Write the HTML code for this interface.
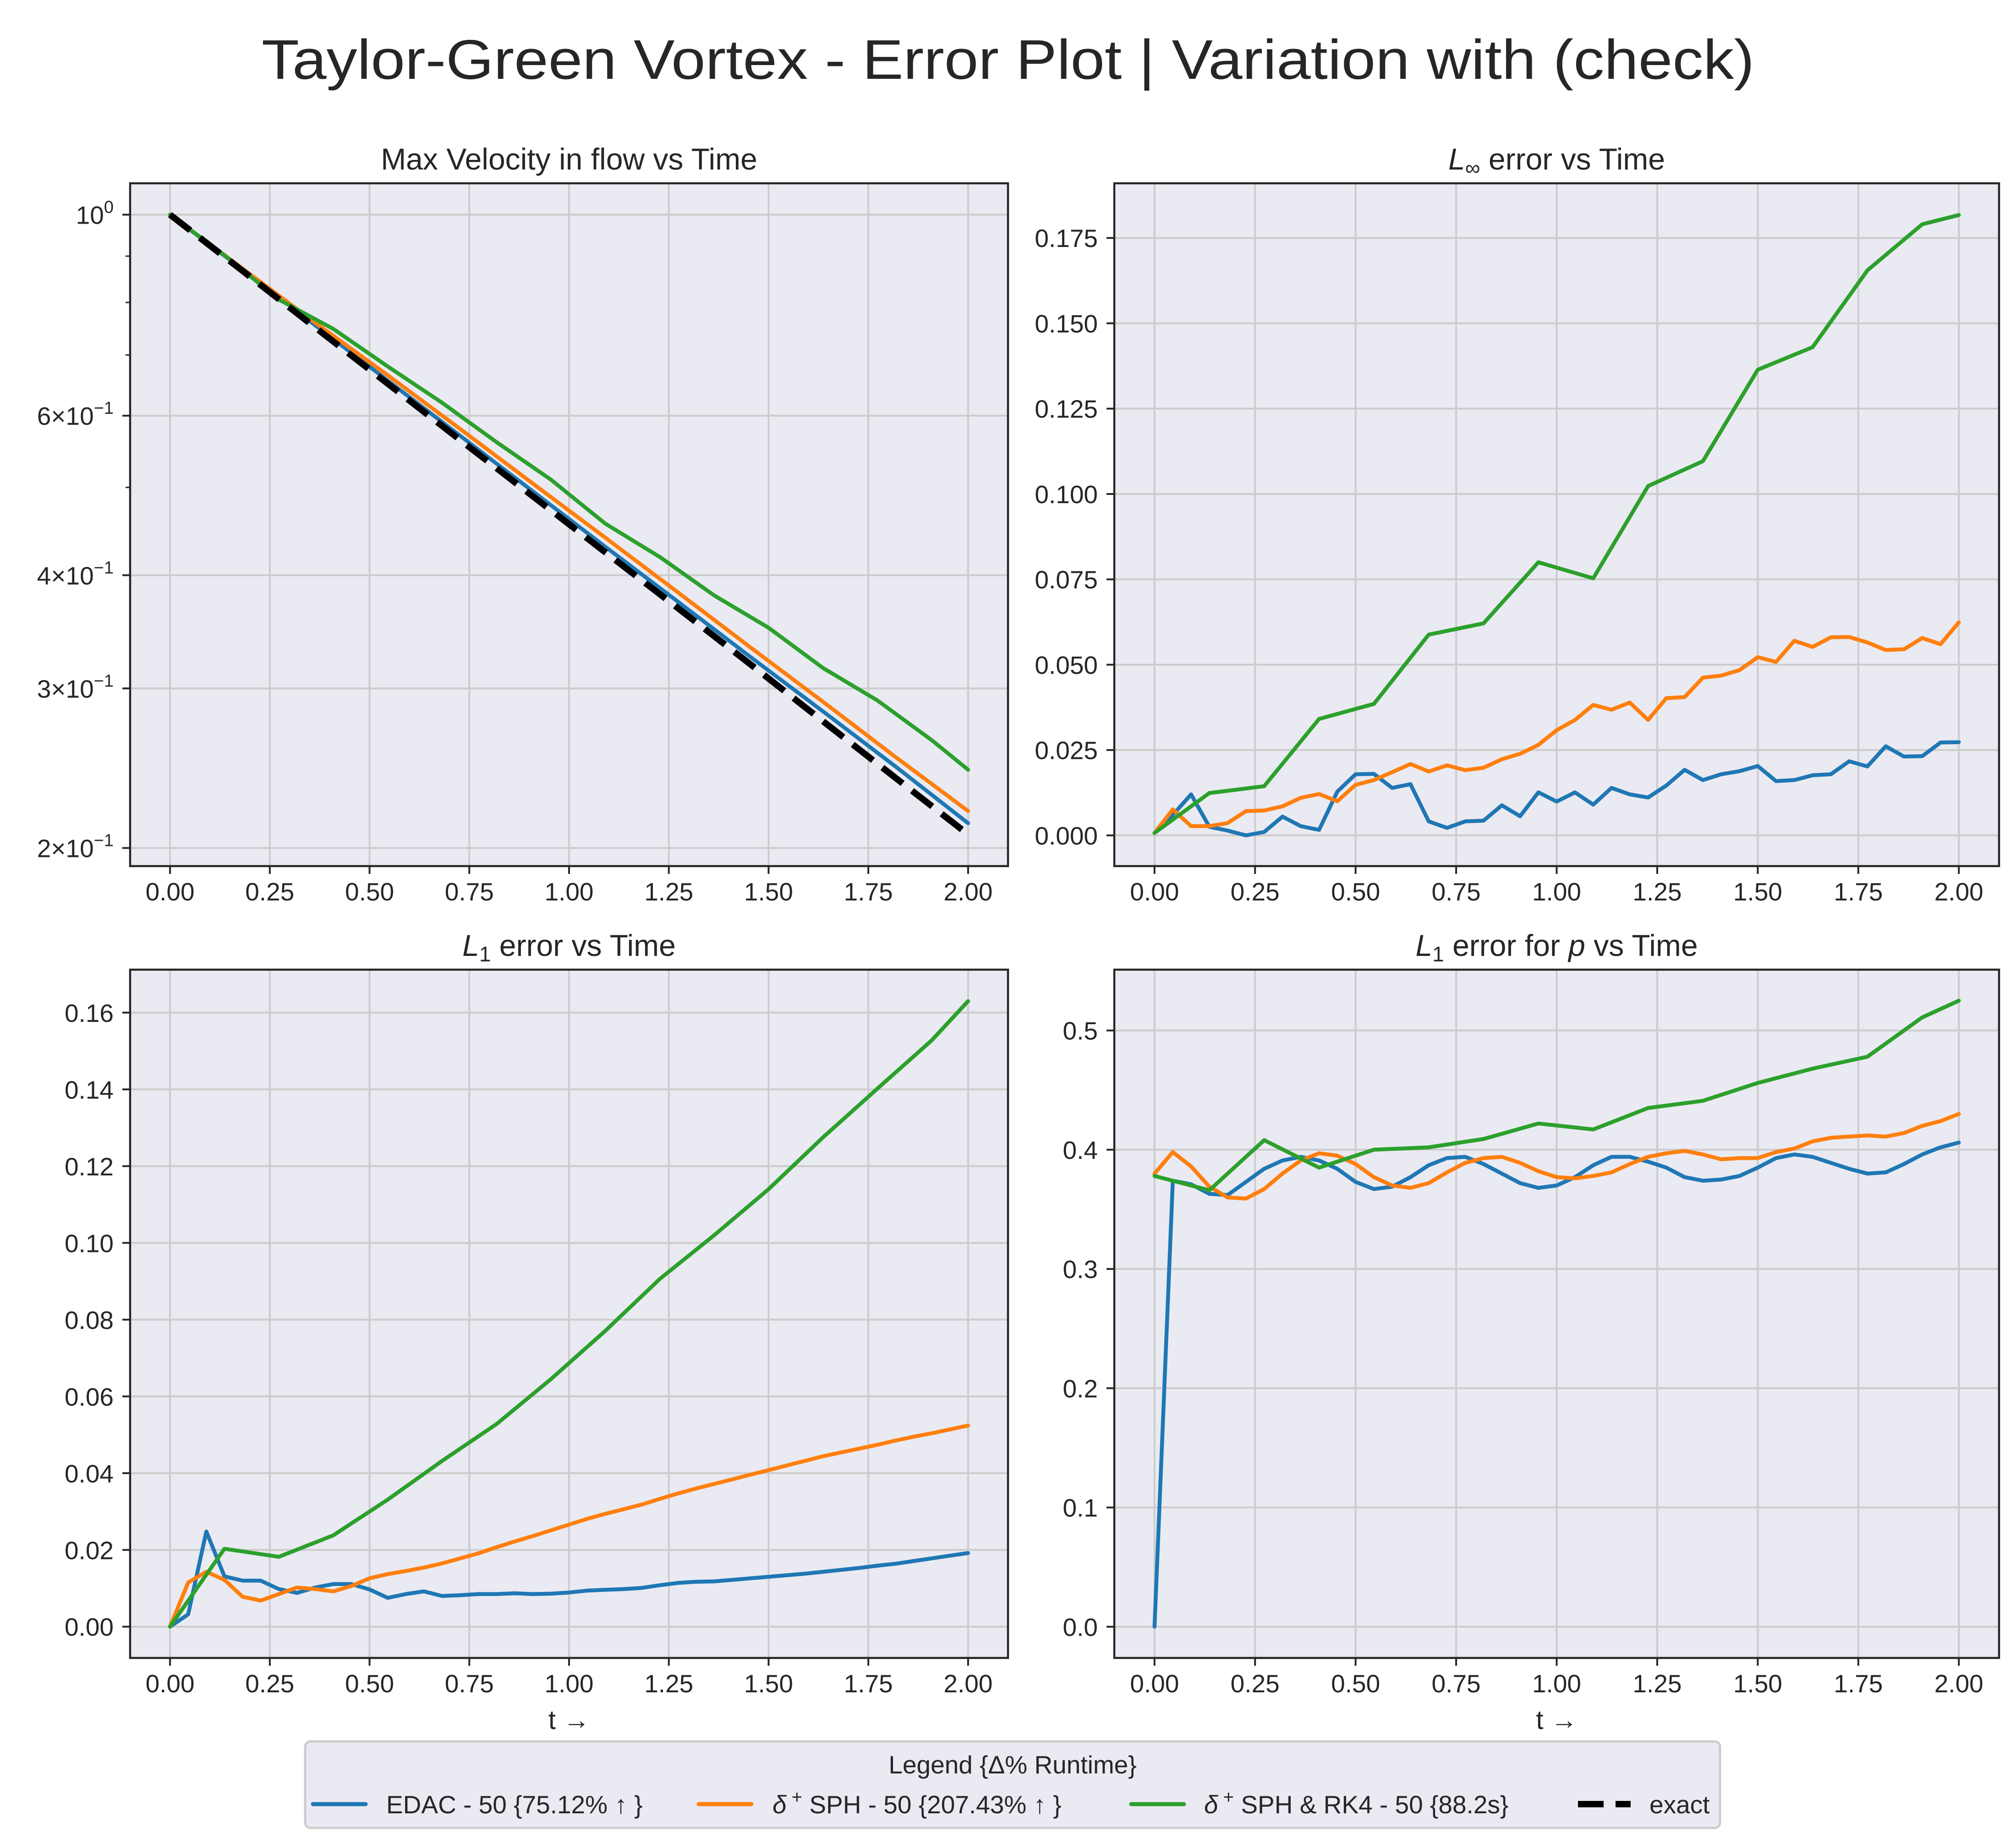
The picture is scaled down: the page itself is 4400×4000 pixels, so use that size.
<!DOCTYPE html>
<html><head><meta charset="utf-8"><style>
html,body{margin:0;padding:0;background:#fff;}
svg{display:block;font-family:"Liberation Sans",Arial,sans-serif;}
</style></head><body>
<svg id="fig" width="4400" height="4000" viewBox="0 0 4400 4000" xmlns="http://www.w3.org/2000/svg">
<text x="2200" y="172" text-anchor="middle" font-size="122" fill="#262626" textLength="3258" lengthAdjust="spacingAndGlyphs">Taylor-Green Vortex - Error Plot | Variation with (check)</text>
</svg>
<script>
// ---------- data ----------
const tFine = [0,0.0455,0.0909,0.1364,0.1818,0.2273,0.2727,0.3182,0.3636,0.4091,0.4545,0.5,0.5455,0.5909,0.6364,0.6818,0.7273,0.7727,0.8182,0.8636,0.9091,0.9545,1.0,1.0455,1.0909,1.1364,1.1818,1.2273,1.2727,1.3182,1.3636,1.4091,1.4545,1.5,1.5455,1.5909,1.6364,1.6818,1.7273,1.7727,1.8182,1.8636,1.9091,1.9545,2.0];
const tGreen = [0,0.1364,0.2727,0.4091,0.5455,0.6818,0.8182,0.9545,1.0909,1.2273,1.3636,1.5,1.6364,1.7727,1.9091,2.0];
const tCoarse = [0,0.1818,0.3636,0.5455,0.7273,0.9091,1.0909,1.2727,1.4545,1.6364,1.8182,2.0];

// Max velocity (log)
const velBlue = [1,0.87,0.755,0.656,0.570,0.495,0.430,0.374,0.325,0.283,0.246,0.213];
const velOrange = [1,0.872,0.76,0.665,0.58,0.505,0.44,0.383,0.333,0.29,0.252,0.2197];
const velExact = [1,0.867,0.751,0.651,0.564,0.489,0.424,0.368,0.319,0.276,0.239,0.207];
const velGreen = [1,0.902,0.806,0.748,0.68,0.62,0.561,0.51,0.456,0.419,0.38,0.35,0.316,0.291,0.263,0.244];

// L_inf
const linfBlue = [0.0007,0.006,0.012,0.0025,0.0014,0.0,0.001,0.0055,0.0027,0.0016,0.0128,0.0179,0.018,0.0139,0.015,0.0041,0.0022,0.0041,0.0043,0.0088,0.0056,0.0126,0.0099,0.0126,0.009,0.0139,0.012,0.0111,0.0146,0.0192,0.0162,0.0179,0.0188,0.0203,0.0159,0.0162,0.0176,0.0179,0.0217,0.0202,0.0261,0.0231,0.0232,0.0272,0.0273];
const linfOrange = [0.0007,0.0076,0.0027,0.0027,0.0036,0.0071,0.0073,0.0085,0.011,0.0121,0.01,0.0148,0.0162,0.0185,0.0209,0.0187,0.0205,0.0191,0.0198,0.0223,0.0239,0.0265,0.0308,0.0338,0.0382,0.0368,0.0389,0.0338,0.0402,0.0405,0.0462,0.0468,0.0484,0.0522,0.0508,0.057,0.0552,0.058,0.0581,0.0565,0.0543,0.0545,0.0578,0.056,0.0624];
const linfGreen = [0.0007,0.0124,0.0144,0.0341,0.0385,0.0588,0.0621,0.08,0.0753,0.1023,0.1096,0.1364,0.143,0.1655,0.179,0.1817];

// L1
const l1Blue = [0,0.0032,0.0248,0.0131,0.012,0.012,0.0098,0.0088,0.0102,0.0111,0.0111,0.0097,0.0075,0.0085,0.0092,0.008,0.0082,0.0085,0.0085,0.0087,0.0085,0.0086,0.0089,0.0094,0.0096,0.0098,0.0101,0.0108,0.0114,0.0117,0.0118,0.0122,0.0126,0.013,0.0134,0.0138,0.0143,0.0148,0.0153,0.0159,0.0164,0.0171,0.0178,0.0185,0.0192];
const l1Orange = [0,0.0115,0.0143,0.0122,0.0078,0.0068,0.0085,0.0102,0.0098,0.0092,0.0106,0.0126,0.0137,0.0145,0.0154,0.0165,0.0178,0.0191,0.0207,0.0222,0.0236,0.0251,0.0266,0.0281,0.0294,0.0306,0.0318,0.0333,0.0347,0.036,0.0372,0.0384,0.0396,0.0408,0.042,0.0432,0.0444,0.0454,0.0464,0.0474,0.0485,0.0495,0.0504,0.0514,0.0524];
const l1Green = [0,0.0203,0.0182,0.0238,0.0331,0.0432,0.0528,0.0645,0.0771,0.0906,0.102,0.114,0.1275,0.1402,0.1528,0.163];

// L1 for p
const pBlue = [0,0.374,0.371,0.363,0.362,0.373,0.384,0.391,0.394,0.391,0.384,0.373,0.367,0.369,0.377,0.387,0.393,0.394,0.388,0.38,0.372,0.368,0.37,0.377,0.387,0.394,0.394,0.39,0.385,0.377,0.374,0.375,0.378,0.385,0.393,0.396,0.394,0.389,0.384,0.38,0.381,0.388,0.396,0.402,0.406];
const pOrange = [0.38,0.398,0.386,0.369,0.36,0.359,0.367,0.38,0.391,0.397,0.395,0.388,0.377,0.37,0.368,0.372,0.381,0.389,0.393,0.394,0.389,0.382,0.377,0.376,0.378,0.381,0.388,0.394,0.397,0.399,0.396,0.392,0.393,0.393,0.398,0.401,0.407,0.41,0.411,0.412,0.411,0.414,0.42,0.424,0.43];
const pGreen = [0.378,0.366,0.408,0.385,0.4,0.402,0.409,0.422,0.417,0.435,0.441,0.456,0.468,0.478,0.511,0.525];

const xTicks = [0,0.25,0.5,0.75,1.0,1.25,1.5,1.75,2.0];
const xTickLabels = ["0.00","0.25","0.50","0.75","1.00","1.25","1.50","1.75","2.00"];
const linfTicks = [0,0.025,0.05,0.075,0.1,0.125,0.15,0.175];
const linfTickLabels = ["0.000","0.025","0.050","0.075","0.100","0.125","0.150","0.175"];
const l1Ticks = [0,0.02,0.04,0.06,0.08,0.1,0.12,0.14,0.16];
const l1TickLabels = ["0.00","0.02","0.04","0.06","0.08","0.10","0.12","0.14","0.16"];
const pTicks = [0,0.1,0.2,0.3,0.4,0.5];
const pTickLabels = ["0.0","0.1","0.2","0.3","0.4","0.5"];
const logMajor = [1.0,0.6,0.4,0.3,0.2];
const logMajorMant = ["","6","4","3","2"];
const logMinor = [0.5,0.7,0.8,0.9];

// ---------- drawing ----------
const NS = "http://www.w3.org/2000/svg";
const svg = document.getElementById('fig');
const C = {blue:"#1f77b4", orange:"#ff7f0e", green:"#2ca02c"};
function mk(tag, attrs, parent){
  const e = document.createElementNS(NS, tag);
  for (const k in attrs) e.setAttribute(k, attrs[k]);
  (parent||svg).appendChild(e);
  return e;
}
function panel(cfg){
  const g = mk('g', {});
  
  
  const {x0,x1,y0,y1} = cfg;
  const sx = t => x0 + (t - (-0.1)) / 2.2 * (x1 - x0);
  const sy = cfg.log
    ? v => y1 - (Math.log10(v) - Math.log10(cfg.ymin)) / (Math.log10(cfg.ymax) - Math.log10(cfg.ymin)) * (y1 - y0)
    : v => y1 - (v - cfg.ymin) / (cfg.ymax - cfg.ymin) * (y1 - y0);
  const bg = mk('rect', {x:x0, y:y0, width:x1-x0, height:y1-y0, fill:"#eaeaf2"}, g);
  
  
  // grid + x ticks
  xTicks.forEach((t, i) => {
    const X = sx(t);
    mk('line', {x1:X, x2:X, y1:y0, y2:y1, stroke:"#cccccc", "stroke-width":4}, g);
    mk('line', {x1:X, x2:X, y1:y1, y2:y1+17, stroke:"#262626", "stroke-width":4}, g);
    const tx = mk('text', {x:X, y:y1+75, "text-anchor":"middle", "font-size":55, fill:"#262626"}, g);
    tx.textContent = xTickLabels[i];
    
    
  });
  cfg.yTicks.forEach((v, i) => {
    const Y = sy(v);
    mk('line', {x1:x0, x2:x1, y1:Y, y2:Y, stroke:"#cccccc", "stroke-width":4}, g);
    mk('line', {x1:x0-17, x2:x0, y1:Y, y2:Y, stroke:"#262626", "stroke-width":4}, g);
    const tx = mk('text', {x:x0-36, y:Y+20, "text-anchor":"end", "font-size":55, fill:"#262626"}, g);
    if (cfg.log) {
      if (cfg.mant[i]) {
        const a = mk('tspan', {}, tx); a.textContent = cfg.mant[i] + "\u00d7";
      }
      const b = mk('tspan', {}, tx); b.textContent = "10";
      const c = mk('tspan', {dy:-24, "font-size":38}, tx); c.textContent = v === 1 ? "0" : "\u22121";
    } else {
      tx.textContent = cfg.yLabels[i];
    }
    
    
  });
  if (cfg.log) logMinor.forEach(v => {
    const Y = sy(v);
    mk('line', {x1:x0-10, x2:x0, y1:Y, y2:Y, stroke:"#262626", "stroke-width":3}, g);
  });
  // series
  cfg.series.forEach(s => {
    const d = s.t.map((t, i) => (i ? "L" : "M") + sx(t).toFixed(1) + " " + sy(s.v[i]).toFixed(1)).join(" ");
    const p = mk('path', {d:d, fill:"none", stroke:s.color, "stroke-width":s.w||8.5, "stroke-linejoin":"round", "stroke-linecap":s.dash?"butt":"round"}, g);
    if (s.dash) p.setAttribute('stroke-dasharray', s.dash);
    
    
  });
  const fr = mk('rect', {x:x0, y:y0, width:x1-x0, height:y1-y0, fill:"none", stroke:"#262626", "stroke-width":4.5}, g);
  
  
  // title
  const tt = mk('text', {x:(x0+x1)/2, y:y0-30, "text-anchor":"middle", "font-size":66, fill:"#262626"}, g);
  cfg.title(tt);
  
  
  if (cfg.xlabel) {
    const xl = mk('text', {x:(x0+x1)/2, y:y1+155, "text-anchor":"middle", "font-size":58, fill:"#262626"}, g);
    xl.textContent = "t \u2192";
    
    
  }
}
function plainTitle(s){ return el => { el.textContent = s; }; }
function mathTitle(sub, rest, pItal){
  return el => {
    const a = mk('tspan', {"font-style":"italic"}, el); a.textContent = "L";
    const b = mk('tspan', {"font-size":46, dy:12}, el); b.textContent = sub;
    const c = mk('tspan', {dy:-12}, el); c.textContent = rest;
    if (pItal) {
      const d = mk('tspan', {"font-style":"italic"}, el); d.textContent = "p";
      const e = mk('tspan', {}, el); e.textContent = " vs Time";
    }
  };
}

panel({name:"max-velocity-panel", x0:284, x1:2200, y0:400, y1:1890, log:true, ymin:0.191, ymax:1.083,
  yTicks:logMajor, mant:logMajorMant, title:plainTitle("Max Velocity in flow vs Time"),
  series:[
    {t:tCoarse, v:velBlue, color:C.blue, name:"edac-velocity-line"},
    {t:tCoarse, v:velOrange, color:C.orange, name:"dsph-velocity-line"},
    {t:tGreen, v:velGreen, color:C.green, name:"dsph-rk4-velocity-line"},
    {t:tCoarse, v:velExact, color:"#000", w:14, dash:"56 26", name:"exact-velocity-line"}
  ]});
panel({name:"linf-error-panel", x0:2432, x1:4363, y0:400, y1:1890, ymin:-0.009, ymax:0.191,
  yTicks:linfTicks, yLabels:linfTickLabels, title:mathTitle("\u221e", " error vs Time"),
  series:[
    {t:tFine, v:linfBlue, color:C.blue, name:"edac-linf-line"},
    {t:tFine, v:linfOrange, color:C.orange, name:"dsph-linf-line"},
    {t:tGreen, v:linfGreen, color:C.green, name:"dsph-rk4-linf-line"}
  ]});
panel({name:"l1-error-panel", x0:284, x1:2200, y0:2116, y1:3618, ymin:-0.00815, ymax:0.1712, xlabel:true,
  yTicks:l1Ticks, yLabels:l1TickLabels, title:mathTitle("1", " error vs Time"),
  series:[
    {t:tFine, v:l1Blue, color:C.blue, name:"edac-l1-line"},
    {t:tFine, v:l1Orange, color:C.orange, name:"dsph-l1-line"},
    {t:tGreen, v:l1Green, color:C.green, name:"dsph-rk4-l1-line"}
  ]});
panel({name:"l1-p-error-panel", x0:2432, x1:4363, y0:2116, y1:3618, ymin:-0.0262, ymax:0.551, xlabel:true,
  yTicks:pTicks, yLabels:pTickLabels, title:mathTitle("1", " error for ", true),
  series:[
    {t:tFine, v:pBlue, color:C.blue, name:"edac-p-line"},
    {t:tFine, v:pOrange, color:C.orange, name:"dsph-p-line"},
    {t:tGreen, v:pGreen, color:C.green, name:"dsph-rk4-p-line"}
  ]});

// legend
const lg = mk('g', {});


mk('rect', {x:666, y:3800, width:3088, height:189, rx:12, fill:"#eaeaf2", stroke:"#cccccc", "stroke-width":5}, lg);
const lt = mk('text', {x:2210, y:3870, "text-anchor":"middle", "font-size":55, fill:"#262626"}, lg);
lt.textContent = "Legend {\u0394% Runtime}";


const entries = [
  {x:683, tx:843, color:C.blue, label:"EDAC - 50 {75.12% \u2191 }", name:"legend-entry-edac"},
  {x:1525, tx:1686, color:C.orange, label:"SPH - 50 {207.43% \u2191 }", delta:true, name:"legend-entry-dsph"},
  {x:2469, tx:2628, color:C.green, label:"SPH & RK4 - 50 {88.2s}", delta:true, name:"legend-entry-dsph-rk4"},
  {x:3444, tx:3600, color:"#000", label:"exact", dash:true, name:"legend-entry-exact"}
];
entries.forEach(e => {
  const g = mk('g', {}, lg);
  
  
  const l = mk('line', {x1:e.x, x2:e.x+115, y1:3937, y2:3937, stroke:e.color, "stroke-width":e.dash?14:9, "stroke-linecap":e.dash?"butt":"round"}, g);
  if (e.dash) l.setAttribute('stroke-dasharray', '56 26');
  const t = mk('text', {x:e.tx, y:3957, "font-size":55, fill:"#262626"}, g);
  if (e.delta) {
    const a = mk('tspan', {"font-style":"italic"}, t); a.textContent = "\u03b4";
    const b = mk('tspan', {dy:-22, "font-size":40}, t); b.textContent = " +";
    const c = mk('tspan', {dy:22}, t); c.textContent = "  " + e.label;
  } else {
    t.textContent = e.label;
  }
});
</script>
</body></html>
